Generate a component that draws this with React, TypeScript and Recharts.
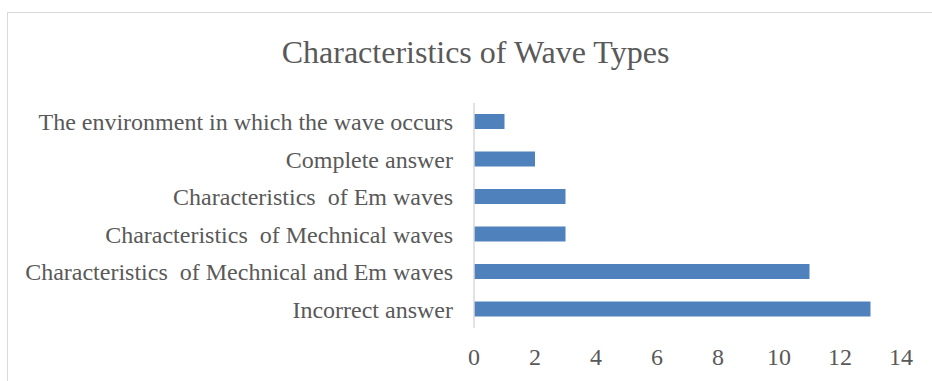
import { BarChart, Bar, XAxis, YAxis } from 'recharts'

// Categories listed top to bottom
const CATEGORIES = [
  'The environment in which the wave occurs',
  'Complete answer',
  'Characteristics\u00A0 of Em waves',
  'Characteristics\u00A0 of Mechnical waves',
  'Characteristics\u00A0 of Mechnical and Em waves',
  'Incorrect answer',
]
const COUNTS = [1, 2, 3, 3, 11, 13]
const X_TICKS = [0, 2, 4, 6, 8, 10, 12, 14]

const TEXT_COLOR = '#595959'
const BAR_COLOR = '#4F81BD'
const FONT = '"Liberation Serif", "Times New Roman", serif'

const chartData = CATEGORIES.map((name, i) => ({ name, count: COUNTS[i] }))

export default function App() {
  return (
    <div
      style={{
        position: 'absolute',
        left: 0,
        top: 0,
        width: 932,
        height: 381,
        overflow: 'hidden',
        background: '#fff',
        fontFamily: FONT,
      }}
    >
      {/* chart area frame, cut off on the right and bottom */}
      <div
        style={{
          position: 'absolute',
          left: 7,
          top: 12,
          width: 960,
          height: 420,
          border: '1px solid #D9D9D9',
        }}
      />
      <div
        style={{
          position: 'absolute',
          left: 0,
          top: 32,
          width: 951,
          textAlign: 'center',
          fontSize: 32,
          color: TEXT_COLOR,
          lineHeight: '40px',
        }}
      >
        Characteristics of Wave Types
      </div>
      <div style={{ position: 'absolute', left: 0, top: 0 }}>
        <BarChart
          width={932}
          height={381}
          data={chartData}
          layout="vertical"
          margin={{ top: 103, right: 31, left: 0, bottom: 0 }}
        >
          <XAxis
            type="number"
            domain={[0, 14]}
            ticks={X_TICKS}
            interval={0}
            axisLine={false}
            tickLine={false}
            tickMargin={14}
            height={53}
            tick={{ fill: TEXT_COLOR, fontSize: 24, fontFamily: FONT }}
          />
          <YAxis
            type="category"
            dataKey="name"
            width={474}
            interval={0}
            tickLine={false}
            tickMargin={15}
            axisLine={{ stroke: '#D9D9D9', strokeWidth: 1.5 }}
            tick={{ fill: TEXT_COLOR, fontSize: 24, fontFamily: FONT }}
          />
          <Bar dataKey="count" fill={BAR_COLOR} barSize={15} isAnimationActive={false} />
        </BarChart>
      </div>
    </div>
  )
}
